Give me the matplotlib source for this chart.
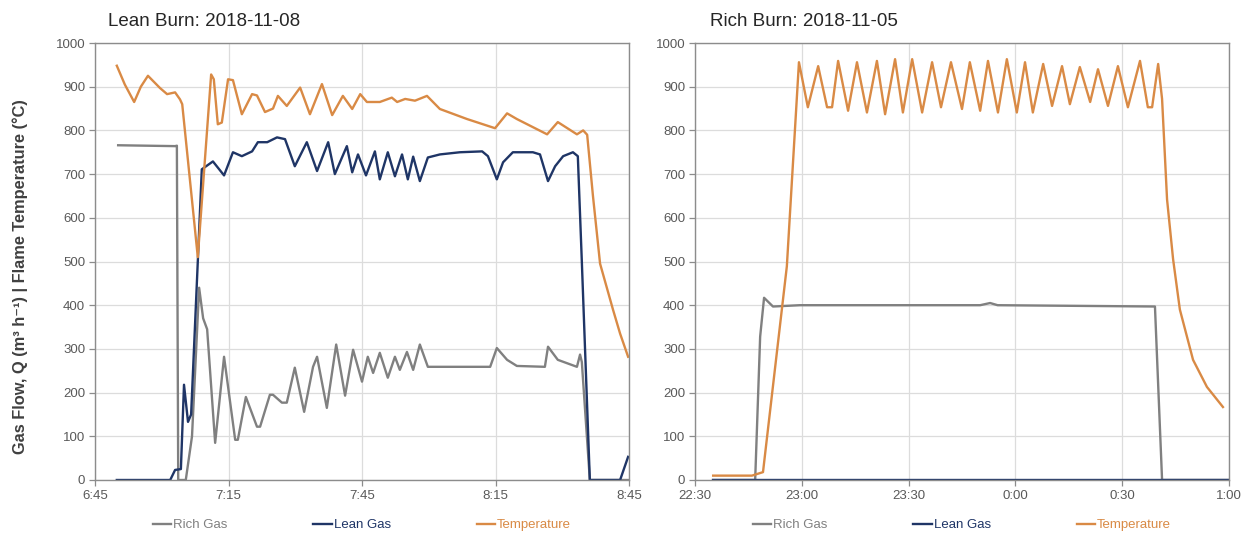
import matplotlib
matplotlib.use("Agg")
import matplotlib.pyplot as plt

plt.rcParams['font.family'] = ['Liberation Sans', 'DejaVu Sans']

# ---------------- data ----------------
# Lean burn panel: time in minutes after 6:45
lean_rich_t = [5.2, 18.0, 18.4, 18.7, 20.4, 21.8, 23.4, 24.3, 25.2, 27.0, 29.0, 31.5, 32.1, 33.9,
               36.4, 37.1, 39.3, 40.0, 42.0, 43.1, 44.9, 47.0, 49.0, 49.9, 52.1, 54.2, 56.2, 58.0,
               60.0, 61.3, 62.5, 64.0, 65.8, 67.4, 68.5, 70.1, 71.5, 73.0, 74.8, 88.8, 90.3, 92.6,
               94.8, 101.1, 101.8, 104.0, 108.3, 109.0, 109.4, 111.2, 119.8]
lean_rich_v = [766, 764, 765, 0, 0, 100, 440, 370, 345, 85, 282, 92, 92, 190,
               122, 122, 195, 195, 177, 177, 257, 156, 259, 282, 165, 310, 193, 298,
               225, 282, 245, 291, 234, 282, 252, 293, 252, 310, 259, 259, 302, 275,
               261, 259, 305, 275, 259, 287, 270, 0, 0]

lean_lean_t = [4.9, 16.9, 18.0, 19.3, 20.0, 20.9, 21.6, 23.1, 24.0, 26.5, 29.0, 31.0, 33.0, 35.3,
               36.6, 38.7, 40.9, 42.7, 44.9, 47.6, 49.9, 52.4, 53.9, 56.6, 57.8, 59.1, 60.9, 62.9,
               64.0, 65.8, 67.4, 69.0, 70.3, 71.5, 73.0, 74.8, 77.5, 82.0, 87.0, 88.3, 90.3, 91.7,
               93.9, 98.4, 100.0, 101.8, 103.4, 105.2, 107.4, 108.5, 109.4, 111.2, 118.0, 119.8]
lean_lean_v = [0, 0, 23, 25, 218, 133, 150, 500, 711, 729, 697, 750, 741, 752,
               773, 773, 784, 780, 718, 773, 707, 773, 700, 764, 704, 745, 697, 752,
               688, 750, 695, 745, 688, 740, 684, 738, 745, 750, 752, 741, 688, 727,
               750, 750, 745, 684, 718, 741, 750, 741, 500, 0, 0, 53]

lean_temp_t = [4.9, 6.7, 8.8, 10.3, 11.9, 14.6, 16.2, 18.0, 19.1, 19.6, 23.1, 26.1, 26.7, 27.6,
               28.5, 29.9, 31.0, 33.0, 35.3, 36.4, 38.2, 40.0, 41.1, 43.1, 46.1, 48.3, 51.0, 53.3,
               55.7, 57.8, 59.6, 61.1, 64.0, 66.7, 67.9, 69.7, 71.9, 74.6, 77.5, 83.6, 89.9, 92.6,
               94.8, 101.6, 104.0, 108.3, 109.7, 110.6, 111.9, 113.5, 116.4, 118.0, 119.8]
lean_temp_v = [948, 905, 865, 900, 925, 897, 883, 887, 871, 860, 510, 928, 917, 814,
               818, 917, 915, 837, 883, 880, 842, 850, 879, 856, 898, 837, 906, 835,
               879, 849, 883, 865, 865, 875, 865, 872, 868, 879, 849, 826, 805, 839,
               826, 791, 819, 791, 800, 790, 650, 495, 390, 335, 282]

# Rich burn panel: time in minutes after 22:30
rich_rich_t = [5.1, 16.9, 18.3, 19.4, 21.9, 29.5, 80.1, 82.9, 85.0, 129.2, 131.2, 150.0]
rich_rich_v = [0, 0, 328, 417, 397, 400, 400, 405, 400, 397, 0, 0]

rich_lean_t = [5.1, 150.0]
rich_lean_v = [0, 0]

rich_temp_t = [5.1, 16.0, 19.1, 25.8, 29.2, 31.7, 34.6, 37.1, 38.5, 40.2, 43.0, 45.5, 48.3, 51.1,
               53.4, 56.2, 58.4, 61.0, 63.8, 66.6, 69.1, 71.9, 75.0, 77.2, 80.1, 82.3, 85.1, 87.6,
               90.4, 92.7, 94.9, 97.8, 100.3, 103.1, 105.3, 108.1, 111.0, 113.2, 116.0, 118.8,
               121.6, 125.0, 127.2, 128.4, 130.1, 131.2, 132.6, 134.3, 136.2, 139.9, 143.8, 148.3]
rich_temp_v = [10, 10, 18, 489, 956, 853, 947, 853, 853, 959, 845, 956, 841, 959,
               837, 963, 841, 963, 841, 956, 853, 956, 849, 956, 845, 959, 841, 963,
               841, 956, 841, 952, 856, 947, 860, 945, 865, 940, 856, 947,
               853, 959, 853, 853, 952, 872, 642, 505, 390, 275, 213, 167]

lean_ticks = [0, 30, 60, 90, 120]
lean_ticklabels = ["6:45", "7:15", "7:45", "8:15", "8:45"]
rich_ticks = [0, 30, 60, 90, 120, 150]
rich_ticklabels = ["22:30", "23:00", "23:30", "0:00", "0:30", "1:00"]

series_names = ["Rich Gas", "Lean Gas", "Temperature"]
colors = ["#808080", "#1f3566", "#d98a45"]

# ---------------- figure ----------------
W, H = 1250, 537
fig = plt.figure(figsize=(W / 100, H / 100), dpi=100)

def px_axes(x0, x1, y0, y1):
    return fig.add_axes([x0 / W, 1 - y1 / H, (x1 - x0) / W, (y1 - y0) / H])

ax1 = px_axes(95, 629, 43, 480)
ax2 = px_axes(695, 1229, 43, 480)

panels = [
    (ax1, [(lean_rich_t, lean_rich_v), (lean_lean_t, lean_lean_v), (lean_temp_t, lean_temp_v)],
     120, lean_ticks, lean_ticklabels, "Lean Burn: 2018-11-08", 108),
    (ax2, [(rich_rich_t, rich_rich_v), (rich_lean_t, rich_lean_v), (rich_temp_t, rich_temp_v)],
     150, rich_ticks, rich_ticklabels, "Rich Burn: 2018-11-05", 710),
]

for ax, data, xmax, ticks, labels, title, tx in panels:
    lines = []
    for (t, v), name, c in zip(data, series_names, colors):
        ln, = ax.plot(t, v, color=c, lw=1.7, label=name, solid_joinstyle='round')
        lines.append(ln)
    ax.set_xlim(0, xmax)
    ax.set_ylim(0, 1000)
    ax.set_xticks(ticks)
    ax.set_xticklabels(labels)
    ax.set_yticks(range(0, 1001, 100))
    ax.grid(True, color="#dcdcdc", lw=0.9)
    ax.set_axisbelow(True)
    for s in ax.spines.values():
        s.set_color("#8c8c8c")
        s.set_linewidth(1.0)
    ax.tick_params(axis='both', colors="#8c8c8c", labelcolor="#595959", labelsize=9.5,
                   length=4, width=0.9, direction='out')
    ax.tick_params(axis='x', pad=3)
    ax.tick_params(axis='y', pad=3)
    leg = ax.legend(lines, series_names, loc='center', bbox_to_anchor=(0.5, -0.103), ncol=3,
                    frameon=False, fontsize=9.5, handlelength=1.4, handletextpad=0.15,
                    columnspacing=6.5)
    for txt, c in zip(leg.get_texts(), colors):
        txt.set_color(c)
    fig.text(tx / W, 1 - 21 / H, title, fontsize=13.5, color="#262626", ha='left', va='center')

fig.text(20 / W, 1 - 277 / H, "Gas Flow, Q (m\u00b3 h\u207b\u00b9) | Flame Temperature (\u00b0C)",
         rotation=90, ha='center', va='center', fontsize=11.8, fontweight='bold', color="#404040")

fig.savefig("out.png", dpi=100)
